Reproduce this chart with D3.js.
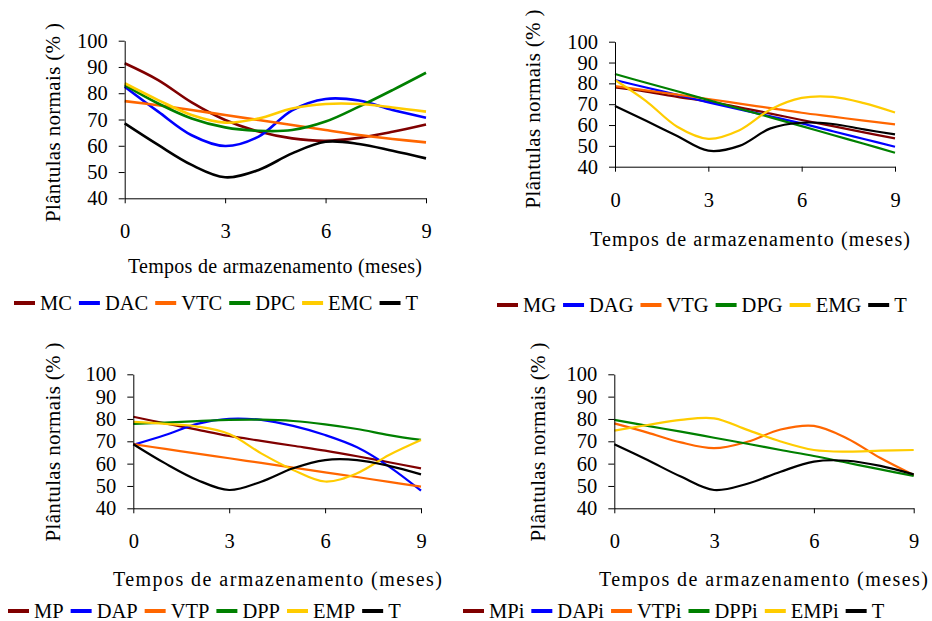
<!DOCTYPE html>
<html>
<head>
<meta charset="utf-8">
<script src="https://cdn.jsdelivr.net/npm/d3@7"></script>
<style>
  body { margin: 0; background: #fff; }
  svg text { font-family: "Liberation Serif", "Times New Roman", serif; fill: #000; }
</style>
</head>
<body>
<script>

	// months of storage
	var meses = [0, 1, 2, 3, 4, 5, 6, 7, 8, 9];
	var xTicks = [0, 3, 6, 9];
	var yTicks = [40, 50, 60, 70, 80, 90, 100];

	// panel 1 (C)
	var MC  = [91.4, 85, 76.5, 69.8, 65.4, 62.8, 61.9, 63, 65.3, 68.1];
	var DAC = [82.5, 73, 64, 59.9, 63.5, 73.5, 77.8, 77.2, 73.6, 70.7];
	var VTC = [77, 75.4, 73.6, 71.7, 69.8, 67.9, 66, 64.1, 62.6, 61.3];
	var DPC = [83.1, 76.1, 70.4, 67, 65.7, 66, 69.2, 74.9, 81.2, 87.8];
	var EMC = [83.8, 77.4, 71.7, 68.8, 70.4, 74.2, 75.9, 75.9, 74.6, 73];
	var T1  = [68.5, 60.3, 52.7, 48, 50.8, 57.1, 61.5, 60.7, 58.1, 55.2];

	// panel 2 (G)
	var MG  = [78, 76, 73.5, 71.2, 68.5, 65.5, 62.4, 59.5, 56.5, 53.6];
	var DAG = [81.6, 78, 74.5, 70.9, 67.5, 64.2, 60.8, 57, 53.3, 49.6];
	var VTG = [78.7, 76.6, 74.6, 72.5, 70.3, 68.1, 65.9, 64, 62.1, 60.3];
	var DPG = [84.5, 80.3, 76.2, 72, 67.8, 63.7, 59.5, 55.2, 51, 46.7];
	var EMG = [81.6, 71.5, 59.2, 53.4, 57.5, 67.5, 73, 73.5, 70.5, 66];
	var T2  = [69.1, 62, 54.7, 47.7, 50, 58.4, 61.1, 60.5, 57.9, 55.5];

	// panel 3 (P)
	var MP  = [81, 78, 75.2, 72.4, 70.2, 68, 65.8, 63.3, 60.6, 57.9];
	var DAP = [68.4, 72.8, 77.8, 80.1, 79.6, 76.9, 72.8, 67.3, 58.7, 47.9];
	var VTP = [68.7, 66.6, 64.5, 62.4, 60.3, 58.2, 56.1, 54, 51.8, 49.7];
	var DPP = [77.8, 78.4, 79, 79.6, 79.7, 79.1, 77.6, 75.5, 72.8, 70.6];
	var EMP = [78.7, 77.8, 76.6, 73.3, 64.6, 57.2, 52, 55.7, 63.9, 70.6];
	var T3  = [68.7, 60.1, 52.7, 48.2, 51.9, 57.9, 61.6, 61.6, 59, 55.2];

	// panel 4 (Pi) - MPi and DAPi are not visible in the figure
	var MPi  = [];
	var DAPi = [];
	var VTPi = [78, 73.9, 69.5, 66.9, 69.8, 75.3, 76.9, 71.3, 62.5, 54.9];
	var DPPi = [79.6, 76.9, 74.3, 71.6, 68.9, 66.1, 63.4, 60.4, 57.4, 54.5];
	var EMPi = [74.8, 77.3, 79.6, 80.3, 75.1, 69.9, 66.1, 65.4, 65.8, 66.1];
	var T4   = [68.7, 61.6, 54.2, 48.2, 51, 56.4, 60.9, 61.3, 59, 55.2];

	var colors = ["#800000", "#0000ff", "#ff6600", "#008000", "#ffcc00", "#000000"];
	var serif = '"Liberation Serif", "Times New Roman", serif';

	var panels = [
		{ names: ["MC", "DAC", "VTC", "DPC", "EMC", "T"], series: [MC, DAC, VTC, DPC, EMC, T1],
		  left: 124.7, right: 426, top: 40.7, bottom: 198.3, pad: 19.7,
		  tx0: 128, tx1: 422, ty: 273, ly: 53.3, lyc: 122.5, legX: 14, legY: 303, smooth: true },
		{ names: ["MG", "DAG", "VTG", "DPG", "EMG", "T"], series: [MG, DAG, VTG, DPG, EMG, T2],
		  left: 615, right: 895, top: 41.7, bottom: 166.7, pad: 21,
		  tx0: 590, tx1: 910, ty: 246, ly: 533, lyc: 109, legX: 497, legY: 305, smooth: false },
		{ names: ["MP", "DAP", "VTP", "DPP", "EMP", "T"], series: [MP, DAP, VTP, DPP, EMP, T3],
		  left: 133.3, right: 421, top: 374.3, bottom: 508.3, pad: 20,
		  tx0: 113, tx1: 442, ty: 586, ly: 53, lyc: 442, legX: 8, legY: 611, smooth: false },
		{ names: ["MPi", "DAPi", "VTPi", "DPPi", "EMPi", "T"], series: [MPi, DAPi, VTPi, DPPi, EMPi, T4],
		  left: 614.3, right: 913.7, top: 374.3, bottom: 508.3, pad: 20,
		  tx0: 599, tx1: 928, ty: 586, ly: 537.7, lyc: 442, legX: 463, legY: 611, smooth: false }
	];

	var svg = d3.select("body")
		.append("svg")
		.attr("width", 932)
		.attr("height", 621)
		.attr("font-family", serif);

	panels.forEach(function(p) {

		var x = d3.scaleLinear().domain([0, 9]).range([p.left, p.right]);
		var y = d3.scaleLinear().domain([40, 100]).range([p.bottom, p.top]);

		var g = svg.append("g");

		// lines
		var line = d3.line()
			.x(function(d, i) { return x(meses[i]); })
			.y(function(d) { return y(d); })
			.curve(d3.curveCatmullRom.alpha(0.5));

		p.series.forEach(function(s, i) {
			if (!s.length) return;
			g.append("path")
				.attr("d", line(s))
				.attr("fill", "none")
				.attr("stroke", colors[i])
				.attr("stroke-width", p.smooth ? 2.6 : 2.2);
		});

		// axes
		g.append("g")
			.attr("transform", "translate(" + p.left + ",0)")
			.call(d3.axisLeft(y).tickValues(yTicks).tickSize(6).tickSizeOuter(0).tickPadding(11))
			.attr("font-family", serif);

		g.append("g")
			.attr("transform", "translate(0," + p.bottom + ")")
			.call(d3.axisBottom(x).tickValues(xTicks).tickSize(5).tickSizeOuter(0).tickPadding(p.pad))
			.attr("font-family", serif);

		g.selectAll(".tick text")
			.attr("font-size", 20.5);
		g.selectAll(".domain, .tick line").attr("stroke", "#000");

		// axis titles
		g.append("text")
			.attr("x", (p.tx0 + p.tx1) / 2)
			.attr("y", p.ty)
			.attr("text-anchor", "middle")
			.attr("textLength", p.tx1 - p.tx0)
			.attr("lengthAdjust", "spacing")
			.attr("font-size", 20)
			.text("Tempos de armazenamento (meses)");

		g.append("text")
			.attr("transform", "translate(" + p.ly + "," + p.lyc + ") rotate(-90)")
			.attr("text-anchor", "middle")
			.attr("dominant-baseline", "central")
			.attr("textLength", 199)
			.attr("lengthAdjust", "spacing")
			.attr("font-size", 21)
			.text("Plântulas normais (% )");

		// legend
		var lx = p.legX;
		p.names.forEach(function(n, i) {
			g.append("line")
				.attr("x1", lx).attr("x2", lx + 21)
				.attr("y1", p.legY).attr("y2", p.legY)
				.attr("stroke", colors[i])
				.attr("stroke-width", 4);
			var t = g.append("text")
				.attr("x", lx + 26)
				.attr("y", p.legY + 7)
				.attr("font-size", 20.5)
				.text(n);
			lx = lx + 26 + t.node().getComputedTextLength() + 7;
		});
	});

</script>
</body>
</html>
